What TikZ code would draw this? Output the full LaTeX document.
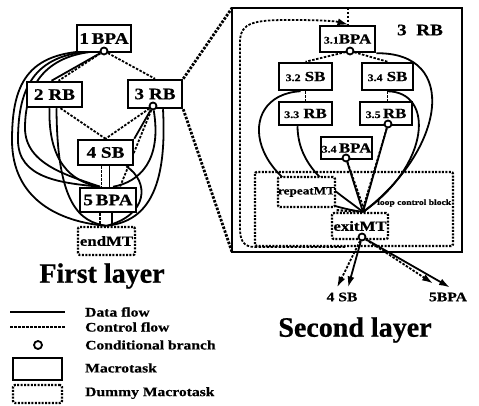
\documentclass[tikz,border=0pt]{standalone}
\usepackage{fontspec}
\setmainfont{Liberation Serif}
\newfontfamily\wf[FakeStretch=1.2,FakeBold=0.6]{Liberation Serif}
\newfontfamily\tf[FakeBold=0.8]{Liberation Serif}
\usetikzlibrary{backgrounds,arrows.meta}
\newcommand{\sm}[1]{{\fontsize{10}{10}\selectfont #1}}
\begin{document}
\begin{tikzpicture}[x=1pt,y=-1pt,
  mt/.style={draw,line width=2.5pt,fill=white,inner sep=0pt,font=\wf\bfseries\fontsize{16}{16}\selectfont},
  mts/.style={mt,font=\wf\bfseries\fontsize{14}{14}\selectfont},
  dmt/.style={draw,line width=2.3pt,dash pattern=on 2pt off 1.4pt,rounded corners=2pt,fill=white,inner sep=0pt,font=\wf\bfseries\fontsize{13}{13}\selectfont},
  cb/.style={circle,draw,line width=1.8pt,fill=white,minimum size=7pt,inner sep=0pt},
  df/.style={line width=1.8pt},
  cf/.style={line width=1.8pt,dash pattern=on 2.5pt off 1.5pt},
  zl/.style={line width=2.8pt,dash pattern=on 2.5pt off 1.5pt},
  tip/.style={-{Latex[length=11pt,width=7pt]}},
  lbl/.style={inner sep=0pt,font=\wf\bfseries\fontsize{13}{13}\selectfont},
  ttl/.style={inner sep=0pt,font=\tf\bfseries\fontsize{28}{28}\selectfont},
]
\useasboundingbox (0,0) rectangle (479,406);

% ---------------- first layer ----------------
\node[mt,minimum width=54pt,minimum height=27pt] (b1) at (104,38.5) {1\,BPA};
\node[mt,minimum width=55pt,minimum height=25pt] (b2) at (54.5,94.5) {2 RB};
\node[mt,minimum width=54pt,minimum height=28pt] (b3) at (155,94) {3 RB};
\node[mt,minimum width=55pt,minimum height=25pt] (b4) at (105.5,152.5) {4 SB};
\node[mt,minimum width=56pt,minimum height=24pt] (b5) at (108,200) {5\,BPA};
\node[dmt,minimum width=57pt,minimum height=28pt,font=\wf\bfseries\fontsize{14}{14}\selectfont] (e1) at (106.5,241) {endMT};
\node[cb] (c1) at (104,51) {};
\node[cb] (c3) at (153,106) {};
\coordinate (J) at ([xshift=-8pt]b5.north);

% ---------------- second layer ----------------
\draw[line width=2.4pt] (232,8) rectangle (462,252);
\coordinate (bigtl) at (232,8);
\coordinate (bigbl) at (232,252);
\coordinate (bt) at (348,8);
\node[lbl,font=\wf\bfseries\fontsize{16}{16}\selectfont] (t3) at (420,30) {3\ \ RB};
\draw[dmt,fill=none] (255,172) rectangle (453,246);
\node[mts,minimum width=55pt,minimum height=26pt] (s31) at (347.5,39) {\sm{3.1}BPA};
\node[mts,minimum width=53pt,minimum height=27pt] (s32) at (305.5,76.5) {\sm{3.2}\ SB};
\node[mts,minimum width=51pt,minimum height=27pt] (s34) at (387.5,76.5) {\sm{3.4}\ SB};
\node[mts,minimum width=53pt,minimum height=23pt] (s33) at (305.5,113.5) {\sm{3.3}\ RB};
\node[mts,minimum width=52pt,minimum height=23pt] (s35) at (386,113.5) {\sm{3.5}\,RB};
\node[mts,minimum width=51pt,minimum height=22pt] (s3b) at (346.5,148) {\sm{3.4}\,BPA};
\node[dmt,minimum width=57pt,minimum height=30pt,font=\wf\bfseries\fontsize{11}{11}\selectfont] (rp) at (306.5,192) {repeatMT};
\node[dmt,minimum width=56pt,minimum height=26pt,font=\wf\bfseries\fontsize{14}{14}\selectfont] (ex) at (360,226) {exitMT};
\node[cb] (cs31) at (350,51) {};
\node[cb] (cs35) at (388,124) {};
\node[cb] (cs3b) at (346,158) {};
\node[cb] (cex) at (362,237) {};
\coordinate (C) at (363,212);
\node[inner sep=0pt,anchor=west,font=\wf\bfseries\fontsize{8}{8}\selectfont] (lcb) at (377,203) {loop control block};
\node[lbl] (l4) at (342,297) {4 SB};
\node[lbl] (l5) at (448,297) {5BPA};

% titles
\node[ttl] (ft) at (102,276) {First layer};
\node[ttl] (st) at (355,330) {Second layer};

% legend
\coordinate (la1) at (10,312); \coordinate (la2) at (65,312);
\coordinate (lb1) at (10,327); \coordinate (lb2) at (65,327);
\draw[line width=2pt] (la1) -- (la2);
\draw[cf,line width=2pt] (lb1) -- (lb2);
\node[cb,minimum size=8pt] (lc) at (38,345) {};
\node[draw,line width=2.5pt,minimum width=49pt,minimum height=22pt,inner sep=0pt] (lm) at (37.5,369) {};
\node[dmt,minimum width=49pt,minimum height=18pt] (ld) at (37.5,394) {};
\node[lbl,anchor=west] at (85,312) {Data flow};
\node[lbl,anchor=west] at (85,327) {Control flow};
\node[lbl,anchor=west] at (85,345) {Conditional branch};
\node[lbl,anchor=west] at (85,368) {Macrotask};
\node[lbl,anchor=west] at (85,393) {Dummy Macrotask};

\begin{pgfonlayer}{background}
\fill[white] (0,0) rectangle (479,406);
% first layer connectors
\draw[df] (c1) -- ([xshift=-3pt]b2.north);
\draw[cf] (c1) -- ([xshift=4pt]b2.north);
\draw[cf] (c1) -- (b3.north);
\draw[df] (c1) .. controls (30,50) and (12,80) .. (12,140) .. controls (12,200) and (60,222) .. (e1.north);
\draw[df] (c1) .. controls (36,52) and (18,85) .. (18,140) .. controls (18,178) and (60,183) .. (J);
\draw[df] (c1) .. controls (42,54) and (25,90) .. (25,128) .. controls (25,165) and (70,176) .. (J);
\draw[df] ([xshift=-5pt]b2.south) .. controls (48,160) and (70,182) .. (J);
\draw[df] ([xshift=2pt]b2.south) .. controls (57,205) and (80,222) .. (e1.north);
\draw[cf] ([xshift=6pt]b2.south) -- (b4.north);
\draw[cf] (c3) -- (b4.north);
\draw[df] (c3) -- (b4.north east);
\draw[cf] (c3) -- ([xshift=12pt]b5.north);
\draw[df] ([xshift=4pt]c3) .. controls (162,160) and (140,182) .. ([xshift=5pt]b5.north);
\draw[df] ([xshift=8pt]b3.south) .. controls (168,200) and (140,222) .. (e1.north);
\draw[df] ([xshift=-8pt]b4.south east) .. controls (150,182) and (148,215) .. (e1.north);
\draw[cf] ([xshift=-4pt]b4.south) -- ([xshift=-4pt]b4.south |- b5.north);
\draw[df] ([xshift=4pt]b4.south) -- ([xshift=4pt]b4.south |- b5.north);
\draw[cf] ([xshift=-8pt]b5.south) -- ([xshift=-8pt]b5.south |- e1.north);
\draw[df] ([xshift=4pt]b5.south) -- ([xshift=4pt]b5.south |- e1.north);
% zoom lines
\draw[zl] (b3.north east) -- (bigtl);
\draw[zl] (b3.south east) -- (bigbl);
% second layer connectors
\draw[cf] (bt) -- (bt |- s31.north);
\draw[cf,tip] (345,247) -- (255,247) .. controls (243,247) and (240,240) .. (240,228) -- (240,42) .. controls (240,22) and (255,20) .. (290,20) .. controls (320,20) and (335,21) .. ([xshift=1pt]s31.north);
\draw[cf] (cs31) -- (s32.north);
\draw[cf] (cs31) -- (s34.north);
\draw[cf] (s32.south) -- (s33.north);
\draw[cf] (s34.south) -- (s34.south |- s35.north);
\draw[df] (s31.south east) .. controls (460,52) and (445,150) .. (C);
\draw[df] (s34.south) .. controls (435,92) and (430,165) .. (C);
\draw[df] ([xshift=-5pt]s32.south) .. controls (232,95) and (245,195) .. (C);
\draw[df] ([xshift=-8pt]s33.south) .. controls (298,170) and (335,190) .. (C);
\draw[df] (cs3b) -- (C);
\draw[cf] ([xshift=4pt]cs3b) -- ([xshift=2pt]C);
\draw[df] (cs35) -- (C);
\draw[cf] ([xshift=-5pt]cs35) -- ([xshift=-1pt]C);
\draw[cf,line width=2.2pt] (C) -- ([yshift=-2pt]rp.south east);
\draw[cf,tip] ([xshift=-3pt]cex) -- ([xshift=-5pt,yshift=5pt]l4.north);
\draw[df,tip] (cex) -- ([xshift=6pt,yshift=5pt]l4.north);
\draw[cf,tip] ([xshift=3pt]cex) -- ([xshift=-15pt,yshift=9pt]l5.north);
\draw[df,tip] ([xshift=5pt]cex) -- ([xshift=2pt,yshift=5pt]l5.north);
\end{pgfonlayer}
\end{tikzpicture}
\end{document}
